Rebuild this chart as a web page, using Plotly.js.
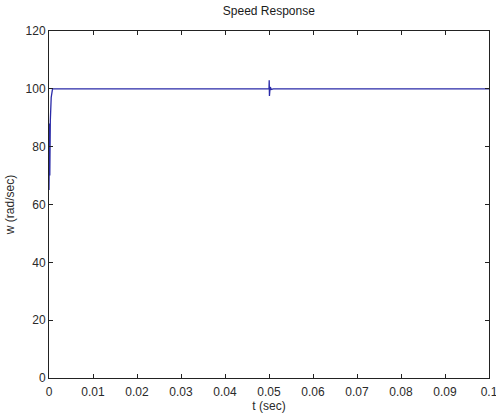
<!DOCTYPE html>
<html>
<head>
<meta charset="utf-8">
<script src="https://cdn.plot.ly/plotly-3.0.1.min.js"></script>
<style>html,body{margin:0;padding:0;background:#fff;}#chart{width:496px;height:415px;}</style>
</head>
<body>
<div id="chart"></div>
<script>
var timeSec = [0, 0.00003, 0.00006, 0.00009, 0.00012, 0.00015, 0.00018, 0.00021, 0.00024, 0.0003, 0.0005, 0.0008, 0.001, 0.02, 0.05, 0.05005, 0.0501, 0.05015, 0.0502, 0.0503, 0.0505, 0.051, 0.1];
var speed   = [65, 88, 66, 87, 68, 88, 70, 88, 89, 89, 97, 100, 100, 100, 100, 103, 97.5, 101, 99.5, 100.6, 99.8, 100, 100];
var xTicks = [0, 0.01, 0.02, 0.03, 0.04, 0.05, 0.06, 0.07, 0.08, 0.09, 0.1];
var xTickText = ["0", "0.01", "0.02", "0.03", "0.04", "0.05", "0.06", "0.07", "0.08", "0.09", "0.1"];
var yTicks = [0, 20, 40, 60, 80, 100, 120];

var font = {family: "Liberation Sans, Arial, sans-serif", size: 12, color: "#2a2a2a"};
Plotly.newPlot("chart", [{
  x: timeSec, y: speed, type: "scatter", mode: "lines",
  line: {color: "#2a2aa8", width: 1.3}, hoverinfo: "none"
}], {
  width: 496, height: 415,
  margin: {l: 49, r: 7, t: 31, b: 37},
  paper_bgcolor: "#fff", plot_bgcolor: "#fff",
  showlegend: false,
  font: font,
  title: {text: "Speed Response", font: {family: font.family, size: 12, color: "#1a1a1a"}, x: 0.542, xanchor: "center", y: 0.985, yanchor: "top"},
  xaxis: {
    range: [0, 0.1000001], tickvals: xTicks, ticktext: xTickText,
    ticks: "inside", ticklen: 4, tickcolor: "#222", tickwidth: 1,
    showline: true, linecolor: "#222", linewidth: 1, mirror: "ticks",
    showgrid: false, zeroline: false,
    tickfont: font, ticklabeloverflow: "allow", ticklabelstandoff: 3,
    title: {text: "t (sec)", font: font, standoff: 2}
  },
  yaxis: {
    range: [0, 120], tickvals: yTicks,
    ticks: "inside", ticklen: 4, tickcolor: "#222", tickwidth: 1,
    showline: true, linecolor: "#222", linewidth: 1, mirror: "ticks",
    showgrid: false, zeroline: false,
    tickfont: font,
    title: {text: "w (rad/sec)", font: font, standoff: 8}
  }
}, {staticPlot: true});
</script>
</body>
</html>
